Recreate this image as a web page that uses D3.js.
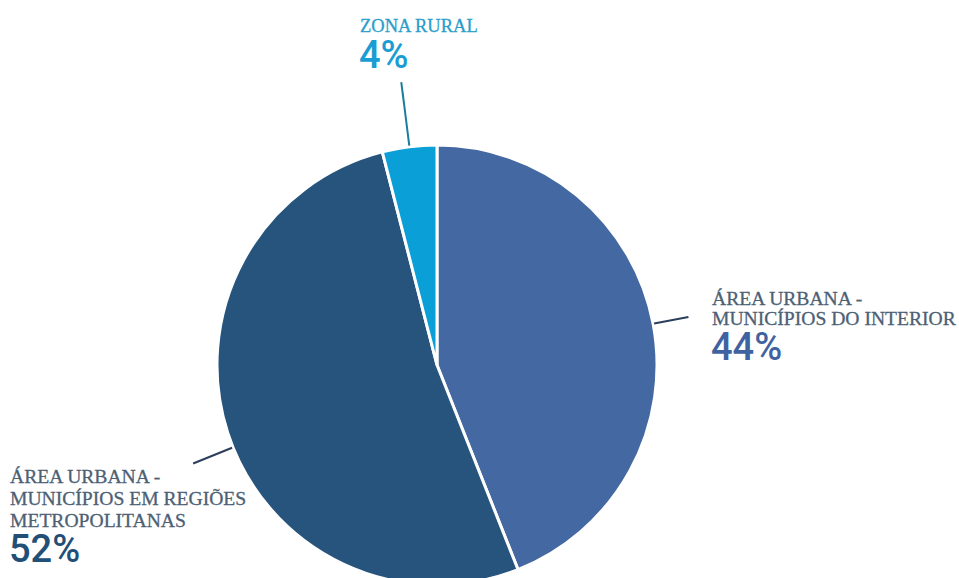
<!DOCTYPE html>
<html>
<head>
<meta charset="utf-8">
<script src="https://cdn.jsdelivr.net/npm/d3@7"></script>
<style>
  html, body { margin: 0; padding: 0; background: #ffffff; }
  svg { display: block; }
</style>
</head>
<body>
<svg id="chart" width="959" height="578"></svg>
<script>
// Share of population by area type (%)
const categories = ["ÁREA URBANA - MUNICÍPIOS DO INTERIOR", "ÁREA URBANA - MUNICÍPIOS EM REGIÕES METROPOLITANAS", "ZONA RURAL"];
const values = [44, 52, 4];
const colors = ["#4468a1", "#27547d", "#0b9fd8"];
const labelLines = [
  ["ÁREA URBANA -", "MUNICÍPIOS DO INTERIOR"],
  ["ÁREA URBANA -", "MUNICÍPIOS EM REGIÕES", "METROPOLITANAS"],
  ["ZONA RURAL"]
];
const pctColors = ["#3f63a0", "#214f78", "#1a9dd2"];
const textColors = ["#4c6074", "#4c6074", "#2a9dcc"];
const leaderColors = ["#2b3f5c", "#2b3f5c", "#1a7d9e"];

const svg = d3.select("#chart");
const cx = 437, cy = 365, r = 220;

const pie = d3.pie().sort(null).value(d => d)(values);
const arc = d3.arc().innerRadius(0).outerRadius(r);

const g = svg.append("g").attr("transform", `translate(${cx},${cy})`);

g.selectAll("path.slice")
  .data(pie)
  .join("path")
  .attr("class", "slice")
  .attr("d", arc)
  .attr("fill", (d, i) => colors[i])
  .attr("stroke", "#ffffff")
  .attr("stroke-width", 3)
  .attr("stroke-linejoin", "round");

// Leader lines from the rim outward along each slice's bisector
const leaderLen = [36, 43, 65];
const leaderShift = [0, -4, 0]; // degrees, nudged off the bisector
g.selectAll("line.leader")
  .data(pie)
  .join("line")
  .attr("class", "leader")
  .each(function (d, i) {
    const a = (d.startAngle + d.endAngle) / 2 + leaderShift[i] * Math.PI / 180;
    const r0 = r + 1, r1 = r + leaderLen[i];
    d3.select(this)
      .attr("x1", Math.sin(a) * r0).attr("y1", -Math.cos(a) * r0)
      .attr("x2", Math.sin(a) * r1).attr("y2", -Math.cos(a) * r1);
  })
  .attr("stroke", (d, i) => leaderColors[i])
  .attr("stroke-width", 2);

// Text blocks: name lines then the percentage
const blocks = [
  { x: 712, y0: 305, step: 20, size: 19.6, pctY: 360 },
  { x: 10, y0: 483, step: 22, size: 19.6, pctY: 562 },
  { x: 360, y0: 32, step: 20, size: 18.5, pctY: 68 }
];

blocks.forEach((b, i) => {
  const t = svg.append("g");
  labelLines[i].forEach((line, k) => {
    t.append("text")
      .attr("x", b.x)
      .attr("y", b.y0 + k * b.step)
      .attr("font-family", "'Liberation Serif', serif")
      .attr("font-size", b.size)
      .attr("fill", textColors[i])
      .attr("stroke", textColors[i])
      .attr("stroke-width", 0.3)
      .text(line);
  });
  t.append("text")
    .attr("x", b.x - 1)
    .attr("y", b.pctY)
    .attr("font-family", "Roboto, sans-serif")
    .attr("font-weight", 500)
    .attr("font-size", 38)
    .attr("fill", pctColors[i])
    .text(values[i] + "%");
});
</script>
</body>
</html>
